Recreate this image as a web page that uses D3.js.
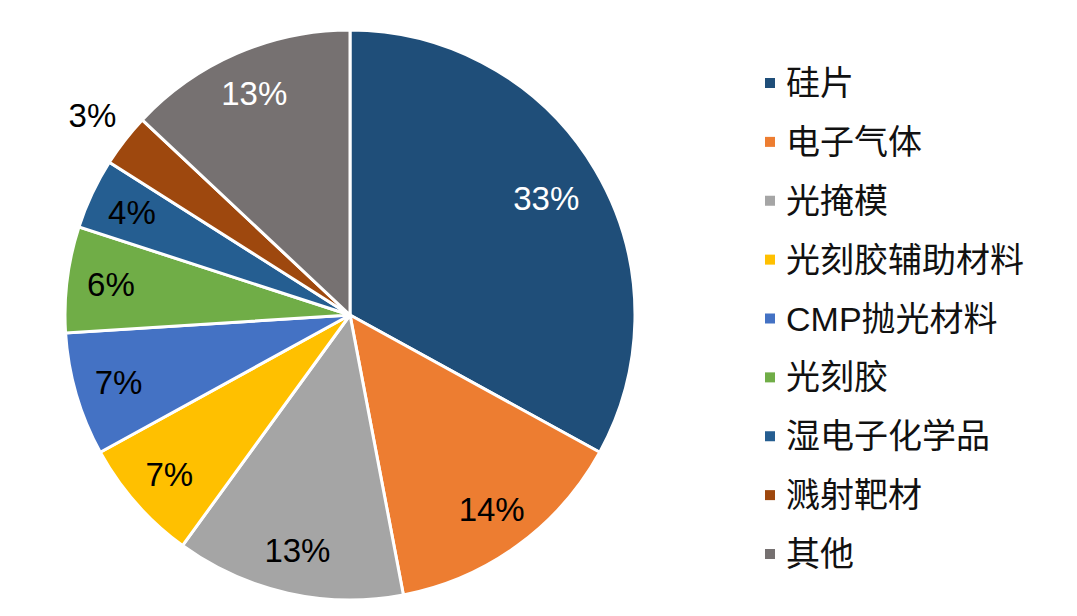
<!DOCTYPE html>
<html><head><meta charset="utf-8">
<script src="https://cdn.jsdelivr.net/npm/d3@7"></script>
<style>body{margin:0;background:#fff;} svg{display:block;}</style>
</head><body>
<svg id="chart" width="1077" height="616"></svg>
<script>
const categories = ["硅片","电子气体","光掩模","光刻胶辅助材料","CMP抛光材料","光刻胶","湿电子化学品","溅射靶材","其他"];
const values = [33,14,13,7,7,6,4,3,13];
const labels = ["33%","14%","13%","7%","7%","6%","4%","3%","13%"];
const colors = ["#1F4E79","#ED7D31","#A5A5A5","#FFC000","#4472C4","#70AD47","#255E91","#9E480E","#767171"];
const labelColors = ["#fff","#000","#000","#000","#000","#000","#000","#000","#fff"];
const outsideLabel = [false,false,false,false,false,false,false,true,false];

const svg = d3.select("#chart");
const cx = 350, cy = 315, R = 285;
const g = svg.append("g").attr("transform",`translate(${cx},${cy})`);

const pie = d3.pie().sort(null).value(d=>d)(values);
const arc = d3.arc().innerRadius(0).outerRadius(R);
const labelArc = d3.arc().innerRadius(241).outerRadius(241);
const bigArc = d3.arc().innerRadius(228).outerRadius(228);
const outArc = d3.arc().innerRadius(326).outerRadius(326);

g.selectAll("path").data(pie).join("path")
  .attr("d", arc)
  .attr("fill",(d,i)=>colors[i])
  .attr("stroke","#fff").attr("stroke-width",3).attr("stroke-linejoin","miter");

g.selectAll("text.lbl").data(pie).join("text").attr("class","lbl")
  .attr("transform",(d,i)=>{
    const a = outsideLabel[i] ? outArc : (d.value > 25 ? bigArc : labelArc);
    return `translate(${a.centroid(d)})`;
  })
  .attr("text-anchor","middle").attr("dominant-baseline","central")
  .attr("font-family","'Liberation Sans', Arial, sans-serif").attr("font-size",33)
  .attr("fill",(d,i)=>labelColors[i])
  .text((d,i)=>labels[i]);

const legend = svg.append("g");
const rowY = d3.scaleLinear().domain([0,8]).range([83,554]);
const items = legend.selectAll("g").data(categories).join("g")
  .attr("transform",(d,i)=>`translate(765,${rowY(i)})`);
items.append("rect").attr("x",0).attr("y",-5).attr("width",10).attr("height",10)
  .attr("fill",(d,i)=>colors[i]);
items.append("text").attr("x",21).attr("y",0).attr("dominant-baseline","central")
  .attr("font-family","'Liberation Sans', 'Noto Sans CJK SC', sans-serif").attr("font-size",34)
  .attr("fill","#111").text(d=>d);
</script>
</body></html>
